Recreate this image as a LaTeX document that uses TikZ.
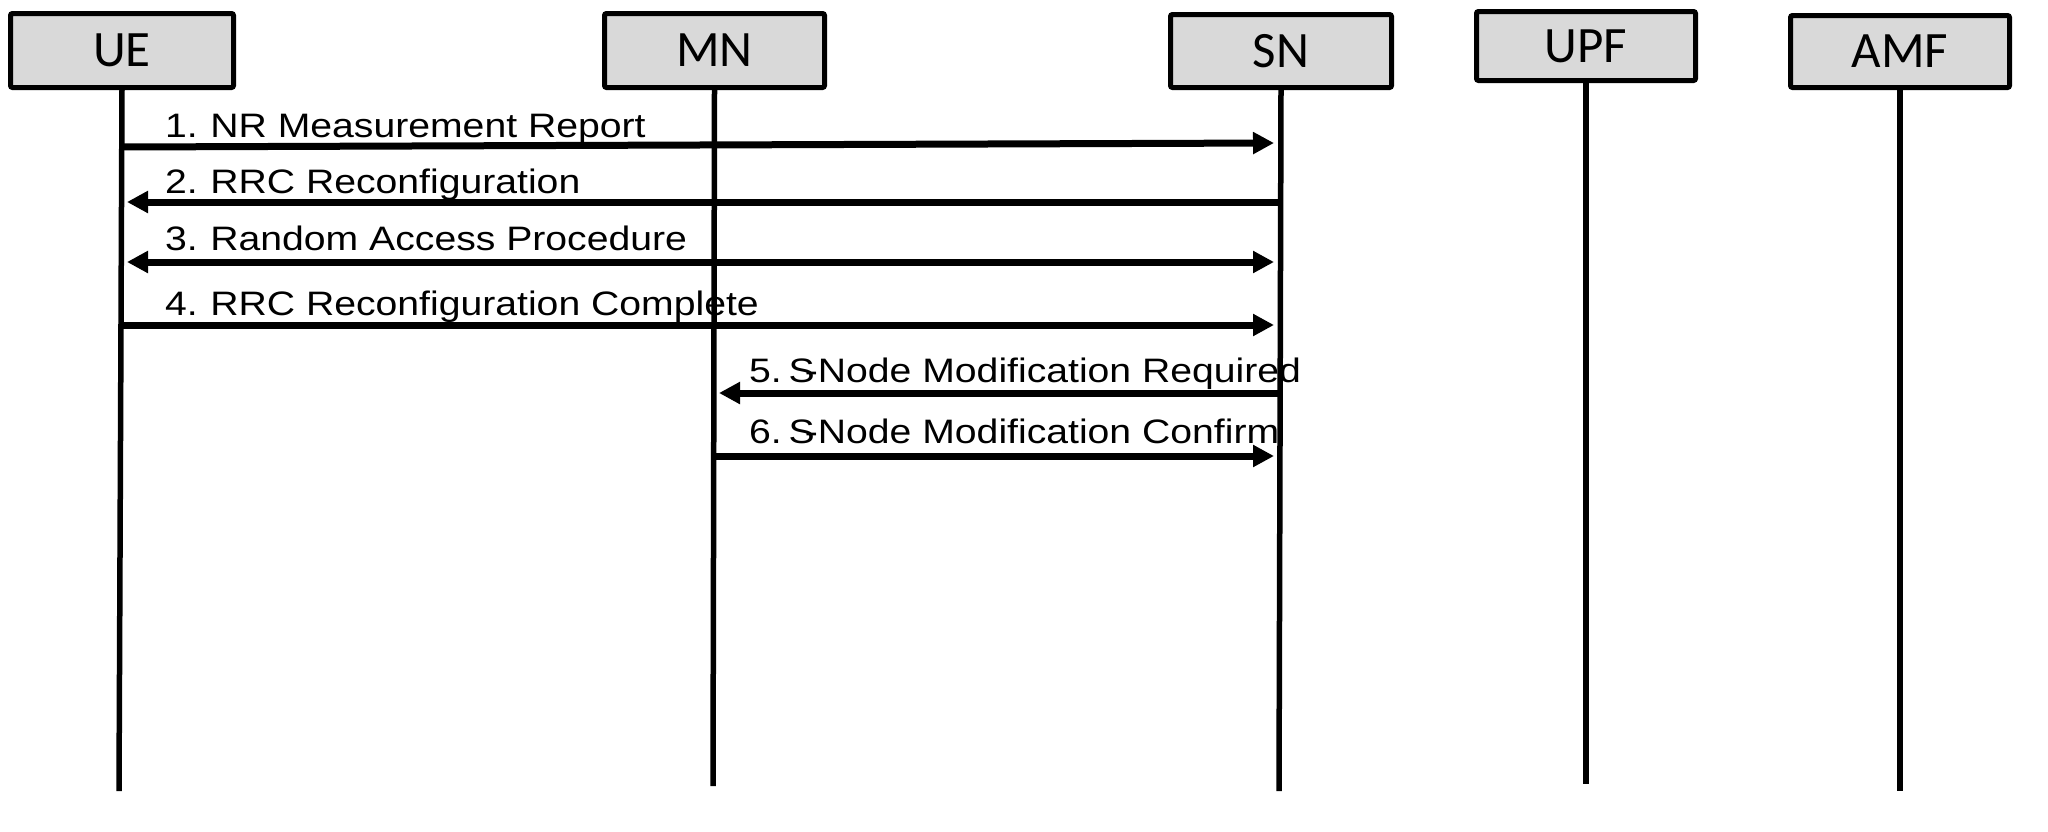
\documentclass[tikz,border=0pt]{standalone}
\usepackage{fontspec}
\setmainfont{Liberation Sans}
\newfontfamily\headfont{Carlito}
\usetikzlibrary{arrows.meta}
\definecolor{headfill}{HTML}{D9D9D9}
\tikzset{
  head/.style={draw=black, fill=headfill, line width=5pt, rounded corners=2pt,
    inner sep=0pt, font=\headfont\fontsize{51}{60}\selectfont},
  life/.style={line width=5.5pt},
  msg/.style={line width=7pt, -{Triangle[length=21pt,width=21pt]}},
  msgboth/.style={line width=7pt, {Triangle[length=21pt,width=21pt]}-{Triangle[length=21pt,width=21pt]}},
  lbl/.style={anchor=base west, inner sep=0pt, font=\fontsize{33.9}{40}\selectfont}
}
\newcommand{\wide}[1]{\scalebox{1.155}[1]{#1}}
\begin{document}
\begin{tikzpicture}[x=1pt,y=-1pt]
\useasboundingbox (0,0) rectangle (2048,831);
% heads
\node[head, minimum width=223pt, minimum height=74pt] (ue) at (122,50.5) {UE};
\node[head, minimum width=220pt, minimum height=74pt] (mn) at (714.5,50.5) {MN};
\node[head, minimum width=221pt, minimum height=73pt] (sn) at (1281,51) {SN};
\node[head, minimum width=219pt, minimum height=69pt] (upf) at (1586,46) {UPF};
\node[head, minimum width=219pt, minimum height=72pt] (amf) at (1900,51.5) {AMF};
% lifeline ends
\coordinate (ueb) at (119,791);
\coordinate (mnb) at (713,786);
\coordinate (snb) at (1279,791);
\coordinate (upfb) at (1586,784);
\coordinate (amfb) at (1900,791);
\draw[life] (ue.south) -- (ueb);
\draw[life] (mn.south) -- (mnb);
\draw[life] (sn.south) -- (snb);
\draw[life] (upf.south) -- (upfb);
\draw[life] (amf.south) -- (amfb);
% message end points
\coordinate (m1a) at (122,147);  \coordinate (m1b) at (1274,143);
\coordinate (m2a) at (1280,202); \coordinate (m2b) at (127,202);
\coordinate (m3a) at (127,262);  \coordinate (m3b) at (1274,262);
\coordinate (m4a) at (122,325);  \coordinate (m4b) at (1274,325);
\coordinate (m5a) at (1280,393); \coordinate (m5b) at (719,393);
\coordinate (m6a) at (714,456);  \coordinate (m6b) at (1274,456);
\draw[msg] (m1a) -- (m1b);
\draw[msg] (m2a) -- (m2b);
\draw[msgboth] (m3a) -- (m3b);
\draw[msg] (m4a) -- (m4b);
\draw[msg] (m5a) -- (m5b);
\draw[msg] (m6a) -- (m6b);
% labels
\node[lbl] (l1) at (165,137) {\wide{1.\kern-0.05em{} NR Measurement Report}};
\node[lbl] (l2) at (165,193) {\wide{2.\kern-0.05em{} RRC Reconfiguration}};
\node[lbl] (l3) at (165,250) {\wide{3.\kern-0.05em{} Random Access Procedure}};
\node[lbl] (l4) at (165,315) {\wide{4.\kern-0.05em{} RRC Reconfiguration Complete}};
\node[lbl] (l5) at (749,382) {\wide{5.\kern-0.2em{} S\kern-0.25em-Node Modification Required}};
\node[lbl] (l6) at (749,443) {\wide{6.\kern-0.2em{} S\kern-0.25em-Node Modification Confirm}};
\end{tikzpicture}
\end{document}
